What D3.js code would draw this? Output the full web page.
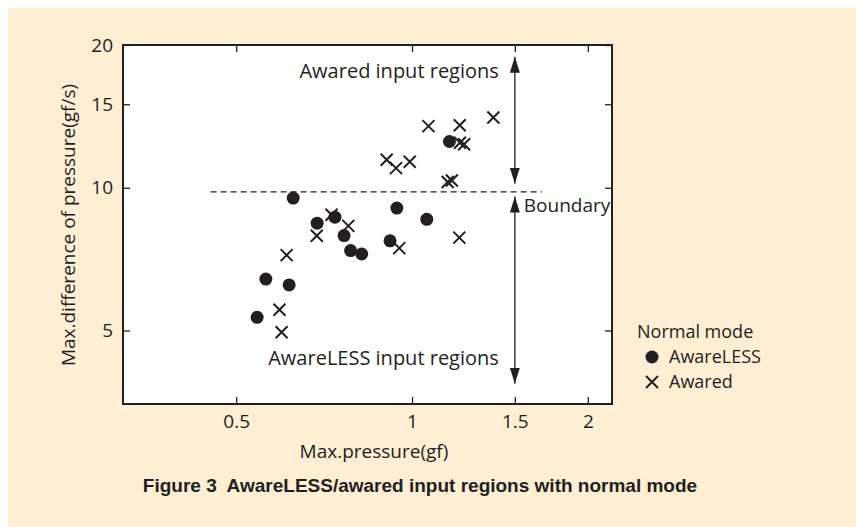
<!DOCTYPE html>
<html lang="en">
  <head>
    <meta charset="UTF-8" />
    <title>AwareLESS/awared input regions</title>
    <script src="https://cdn.jsdelivr.net/npm/d3@7"></script>
    <style>
      body { margin: 0; background: #fff; }
      text { font-family: 'Open Sans', sans-serif; fill: #231f20; }
    </style>
  </head>
  <body>
    <div id="chart_svg"></div>
    <script>
      // tick labels
      const xTicks = [0.5, 1, 1.5, 2]
      const yTicks = [5, 10, 15, 20]

      // AwareLESS (filled circles)
      const awarelessX = [0.543, 0.562, 0.616, 0.626, 0.688, 0.738, 0.765, 0.785, 0.82, 0.917, 0.942, 1.06, 1.159]
      const awarelessY = [5.33, 6.42, 6.24, 9.51, 8.42, 8.67, 7.93, 7.37, 7.25, 7.73, 9.06, 8.58, 12.52]

      // Awared (crosses)
      const awaredX = [0.598, 0.593, 0.61, 0.687, 0.728, 0.778, 0.951, 1.205, 0.905, 0.939, 0.991, 1.151, 1.17, 1.067, 1.207, 1.378, 1.208, 1.228]
      const awaredY = [4.96, 5.53, 7.21, 7.92, 8.77, 8.31, 7.46, 7.85, 11.46, 11.0, 11.35, 10.28, 10.36, 13.49, 13.55, 14.07, 12.44, 12.35]

      // boundary and region arrows
      const boundaryY = 9.8
      const boundaryX = [0.452, 1.668]
      const arrowX = 1.5
      const upperArrow = [18.9, 10.2]
      const lowerArrow = [9.58, 3.86]

      const width = 856
      const height = 527
      const ink = '#231f20'

      const svg = d3
        .select('#chart_svg')
        .append('svg')
        .attr('width', width)
        .attr('height', height)

      svg.append('rect')
        .attr('x', 8).attr('y', 8)
        .attr('width', width - 8).attr('height', height - 8)
        .attr('fill', '#fdeed4')

      const x = d3.scaleLog().domain([0.32, 2.2]).range([123, 612])
      const y = d3.scaleLog().domain([3.5, 20]).range([404, 45])

      svg.append('rect')
        .attr('x', x.range()[0]).attr('y', y.range()[1])
        .attr('width', x.range()[1] - x.range()[0])
        .attr('height', y.range()[0] - y.range()[1])
        .attr('fill', '#fff')

      const defs = svg.append('defs')
      defs.append('marker')
        .attr('id', 'head')
        .attr('viewBox', '0 0 16 10')
        .attr('refX', 16).attr('refY', 5)
        .attr('markerWidth', 16).attr('markerHeight', 10)
        .attr('markerUnits', 'userSpaceOnUse')
        .attr('orient', 'auto-start-reverse')
        .append('path')
        .attr('d', 'M0,0L16,5L0,10Z')
        .attr('fill', ink)

      // axes, ticks pointing inward
      const styleAxis = g => {
        g.select('.domain').remove()
        g.selectAll('.tick line').attr('stroke', ink).attr('stroke-width', 1.3)
        g.selectAll('text')
          .style('font-family', "'Open Sans', sans-serif")
          .style('font-size', '19px')
          .attr('fill', ink)
      }
      svg.append('g')
        .attr('transform', `translate(0,${y.range()[0]})`)
        .call(d3.axisBottom(x).tickValues(xTicks).tickFormat(d => d).tickSizeInner(-7).tickSizeOuter(0).tickPadding(11))
        .call(styleAxis)
      svg.append('g')
        .attr('transform', `translate(0,${y.range()[1]})`)
        .call(d3.axisTop(x).tickValues(xTicks).tickFormat('').tickSizeInner(-7).tickSizeOuter(0))
        .call(styleAxis)
      svg.append('g')
        .attr('transform', `translate(${x.range()[0]},0)`)
        .call(d3.axisLeft(y).tickValues(yTicks).tickFormat(d => d).tickSizeInner(-7).tickSizeOuter(0).tickPadding(10))
        .call(styleAxis)
      svg.append('g')
        .attr('transform', `translate(${x.range()[1]},0)`)
        .call(d3.axisRight(y).tickValues(yTicks).tickFormat('').tickSizeInner(-7).tickSizeOuter(0))
        .call(styleAxis)

      svg.append('rect')
        .attr('x', x.range()[0]).attr('y', y.range()[1])
        .attr('width', x.range()[1] - x.range()[0])
        .attr('height', y.range()[0] - y.range()[1])
        .attr('fill', 'none')
        .attr('stroke', ink)
        .attr('stroke-width', 2)

      // boundary
      svg.append('line')
        .attr('x1', x(boundaryX[0])).attr('x2', x(boundaryX[1]))
        .attr('y1', y(boundaryY)).attr('y2', y(boundaryY))
        .attr('stroke', ink)
        .attr('stroke-width', 1.2)
        .attr('stroke-dasharray', '6,4')

      // region arrows
      ;[upperArrow, lowerArrow].forEach(a => {
        svg.append('line')
          .attr('x1', x(arrowX)).attr('x2', x(arrowX))
          .attr('y1', y(a[0])).attr('y2', y(a[1]))
          .attr('stroke', ink)
          .attr('stroke-width', 1.3)
          .attr('marker-start', 'url(#head)')
          .attr('marker-end', 'url(#head)')
      })

      const label = (tx, ty, str, anchor = 'start', size = 20) =>
        svg.append('text')
          .attr('x', tx).attr('y', ty)
          .attr('text-anchor', anchor)
          .style('font-size', size + 'px')
          .text(str)

      label(x(arrowX) - 16, y(17.06), 'Awared input regions', 'end')
      label(x(arrowX) - 16, y(4.23), 'AwareLESS input regions', 'end')
      label(x(arrowX) + 9, y(boundaryY) + 20, 'Boundary', 'start', 19)

      // marks
      const cross = (g, cx, cy, r = 6) =>
        g.append('path')
          .attr('d', `M${cx - r},${cy - r}L${cx + r},${cy + r}M${cx - r},${cy + r}L${cx + r},${cy - r}`)
          .attr('stroke', ink)
          .attr('stroke-width', 2)
          .attr('fill', 'none')

      const marks = svg.append('g')
      marks.selectAll('circle')
        .data(d3.range(awarelessX.length))
        .join('circle')
        .attr('cx', i => x(awarelessX[i]))
        .attr('cy', i => y(awarelessY[i]))
        .attr('r', 6.5)
        .attr('fill', ink)
      awaredX.forEach((v, i) => cross(marks, x(v), y(awaredY[i])))

      // legend
      label(637, 338, 'Normal mode', 'start', 18)
      svg.append('circle').attr('cx', 652).attr('cy', 357).attr('r', 6.5).attr('fill', ink)
      label(669, 363, 'AwareLESS', 'start', 18)
      cross(svg, 652, 382)
      label(669, 388, 'Awared', 'start', 18)

      // axis titles
      label(374, 458, 'Max.pressure(gf)', 'middle', 19)
      label(0, 0, 'Max.difference of pressure(gf/s)', 'middle', 19)
        .attr('transform', 'translate(75,225) rotate(-90)')

      svg.append('text')
        .attr('x', 420).attr('y', 492)
        .attr('text-anchor', 'middle')
        .style('font-family', "'Liberation Sans', Arial, sans-serif")
        .style('font-weight', 'bold')
        .style('font-size', '19px')
        .attr('xml:space', 'preserve')
        .text('Figure 3  AwareLESS/awared input regions with normal mode')
    </script>
  </body>
</html>
